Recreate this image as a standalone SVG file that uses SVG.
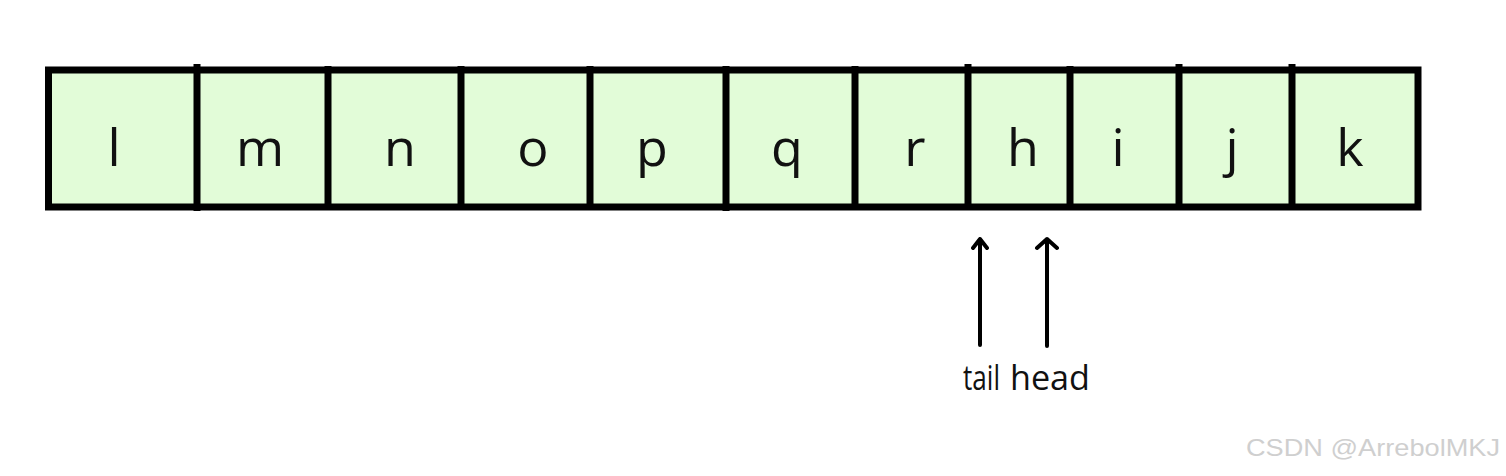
<svg xmlns="http://www.w3.org/2000/svg" width="1506" height="476" viewBox="0 0 1506 476">
<style>
.cell{fill:#e2fcd8;stroke:none}
.frame{fill:none;stroke:#000;stroke-width:7}
.div{stroke:#000;stroke-width:7}
.lbl{font-family:"Open Sans","DejaVu Sans",sans-serif;font-size:52px;fill:#111;text-anchor:middle}
.ptr{font-family:"Open Sans","DejaVu Sans",sans-serif;font-size:34px;fill:#111}
.arr{stroke:#000;stroke-width:4;fill:none;stroke-linecap:round;stroke-linejoin:round}
.wm{font-family:"Liberation Sans",Arial,sans-serif;font-size:24px;fill:#cfcfcf}
</style>
<rect x="0" y="0" width="1506" height="476" fill="#fff"/>
<g id="array">
<rect class="cell" x="48" y="70" width="1370" height="137"/>
<rect class="frame" x="48.5" y="70" width="1369.5" height="137"/>
</g>
<g id="dividers">
<line class="div" x1="197" y1="64" x2="197" y2="211"/>
<line class="div" x1="328" y1="66" x2="328" y2="209"/>
<line class="div" x1="461" y1="66" x2="461" y2="209"/>
<line class="div" x1="590" y1="66" x2="590" y2="209"/>
<line class="div" x1="726" y1="66" x2="726" y2="211"/>
<line class="div" x1="855" y1="66" x2="855" y2="209"/>
<line class="div" x1="968" y1="64" x2="968" y2="209"/>
<line class="div" x1="1070" y1="66" x2="1070" y2="209"/>
<line class="div" x1="1179" y1="64" x2="1179" y2="209"/>
<line class="div" x1="1292" y1="64" x2="1292" y2="209"/>
</g>
<g id="c-l"><text class="lbl" x="114" y="166">l</text></g>
<g id="c-m"><text class="lbl" x="260" y="166">m</text></g>
<g id="c-n"><text class="lbl" x="400" y="166">n</text></g>
<g id="c-o"><text class="lbl" x="533" y="166">o</text></g>
<g id="c-p"><text class="lbl" x="652" y="166">p</text></g>
<g id="c-q"><text class="lbl" x="787" y="166">q</text></g>
<g id="c-r"><text class="lbl" x="915" y="166">r</text></g>
<g id="c-h"><text class="lbl" x="1023" y="166">h</text></g>
<g id="c-i"><text class="lbl" x="1118" y="166">i</text></g>
<g id="c-j"><text class="lbl" x="1232" y="166">j</text></g>
<g id="c-k"><text class="lbl" x="1350" y="166">k</text></g>
<g id="connectors">
<path class="arr" d="M980 345 V239 M973 248 L980 239 L987 248"/>
<path class="arr" d="M1047 346 V239 M1037 248 L1047 239 L1057 248"/>
</g>
<g id="tail"><text class="ptr" x="963" y="390" textLength="37" lengthAdjust="spacingAndGlyphs">tail</text></g>
<g id="head"><text class="ptr" x="1010" y="390" textLength="80" lengthAdjust="spacingAndGlyphs">head</text></g>
<text class="wm" x="1246" y="456" textLength="254" lengthAdjust="spacingAndGlyphs">CSDN @ArrebolMKJ</text>
</svg>
